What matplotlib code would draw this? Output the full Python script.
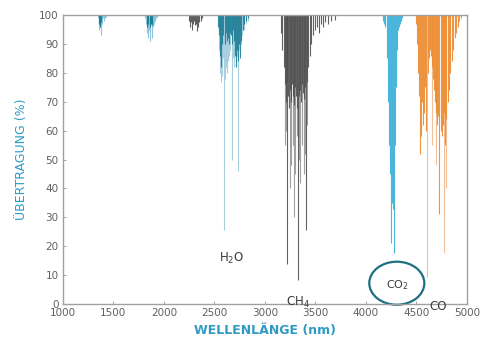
import matplotlib
matplotlib.use("Agg")
import matplotlib.pyplot as plt
from matplotlib.patches import Ellipse

# ---------------- data ----------------
x_ticks = [1000, 1500, 2000, 2500, 3000, 3500, 4000, 4500, 5000]
y_ticks = [0, 10, 20, 30, 40, 50, 60, 70, 80, 90, 100]

# H2O weak bands (light blue)
h2o_weak_wl = [1345, 1355, 1362, 1368, 1375, 1382, 1390, 1398, 1405, 1415, 1425,
               1815, 1825, 1832, 1840, 1848, 1855, 1862, 1870, 1878, 1885, 1892, 1900, 1910, 1920, 1935]
h2o_weak_tr = [99, 97, 95, 98, 93, 96, 97, 99, 98, 99, 99.5,
               99, 97, 94, 92, 96, 95, 91, 97, 95, 92, 96, 97, 98, 99, 99.5]
# H2O weak bands (teal)
h2o_weakd_wl = [1358, 1366, 1374, 1838, 1846, 1858, 1868, 1882]
h2o_weakd_tr = [97, 96, 97.5, 96, 97, 96, 97, 96.5]

# H2O main band, light blue
h2o_light_wl = [2545, 2555, 2565, 2575, 2585, 2595, 2600, 2610, 2620, 2630, 2640, 2650, 2660,
                2672, 2680, 2690, 2700, 2710, 2720, 2730, 2738, 2748, 2760, 2775, 2790, 2810, 2830]
h2o_light_tr = [88, 80, 77, 79, 85, 82, 25.5, 78, 82, 80, 84, 86, 88,
                50, 85, 82, 87, 84, 86, 80, 46, 88, 90, 93, 95, 97, 98]
# H2O main band, teal
h2o_dark_wl = [2540, 2550, 2560, 2568, 2578, 2590, 2605, 2615, 2625, 2635, 2645, 2655, 2665,
               2676, 2685, 2695, 2705, 2715, 2725, 2735, 2745, 2755, 2765, 2780, 2795, 2815, 2835]
h2o_dark_tr = [96, 93, 86, 82, 90, 93, 90, 94, 91, 92, 90, 94, 93,
               90, 95, 91, 86, 82, 88, 84, 90, 85, 91, 95, 97, 98, 99]

# CH4 (dark grey)
ch4_dark_wl = [2250, 2262, 2272, 2280, 2290, 2300, 2310, 2320, 2330, 2340, 2352, 2365, 2380,
               3165, 3175, 3185, 3195, 3205, 3215, 3223, 3232, 3240, 3250, 3260, 3270, 3280,
               3290, 3300, 3310, 3320, 3326, 3335, 3345, 3355, 3365, 3375, 3385, 3395, 3408,
               3420, 3432, 3445, 3460, 3480, 3500, 3520, 3540, 3560, 3580, 3600, 3630, 3660, 3690]
ch4_dark_tr = [98, 96, 97.5, 95, 97, 98, 96.5, 97, 94.5, 96, 97.5, 98, 99,
               94, 88, 82, 76, 70, 77, 14, 72, 68, 74, 70, 76, 72,
               69, 75, 72, 68, 8.3, 72, 74, 70, 76, 73, 71, 75, 25.6,
               77, 82, 86, 90, 93, 95, 96, 94, 97, 96, 97.5, 97, 98, 98.5]
# CH4 (light grey)
ch4_light_wl = [3200, 3212, 3245, 3255, 3275, 3285, 3300, 3315, 3340, 3350, 3370, 3390, 3400, 3415]
ch4_light_tr = [55, 60, 40, 48, 55, 30, 45, 58, 50, 42, 55, 45, 52, 62]

# CO2 (light blue)
co2_wl = [4175, 4185, 4195, 4205, 4212, 4220, 4228, 4235, 4242, 4248, 4255, 4262,
          4270, 4278, 4284, 4290, 4298, 4305, 4312, 4320, 4330, 4340, 4350, 4360]
co2_tr = [98, 97, 96, 93, 85, 70, 55, 50, 45, 21, 40, 35,
          33, 45, 17.6, 55, 75, 88, 93, 95, 96, 97, 98, 99]

# CO (orange)
co_dark_wl = [4500, 4510, 4520, 4530, 4540, 4550, 4560, 4570, 4580, 4590, 4600, 4615, 4625,
              4635, 4645, 4655, 4665, 4675, 4685, 4695, 4705, 4715, 4727, 4740, 4750, 4760,
              4770, 4780, 4795, 4810, 4820, 4835, 4850, 4865, 4880, 4895, 4910, 4925, 4940]
co_dark_tr = [97, 90, 80, 72, 52, 58, 70, 62, 66, 75, 60, 80, 85,
              88, 86, 82, 78, 74, 70, 66, 62, 65, 31, 60, 58, 62,
              66, 55, 64, 70, 74, 80, 84, 88, 92, 94, 96, 98, 99]
# CO (peach, deep lines)
co_light_wl = [4604, 4655, 4700, 4776, 4790]
co_light_tr = [9.4, 55, 48, 17.6, 40]

# ---------------- figure ----------------
fig = plt.figure(figsize=(4.95, 3.41), dpi=100)
ax = fig.add_axes([0.127, 0.1085, 0.816, 0.847])

lw = 0.8
ax.vlines(h2o_weak_wl, h2o_weak_tr, 100, color="#8ec5dc", lw=lw)
ax.vlines(h2o_weakd_wl, h2o_weakd_tr, 100, color="#1d7e96", lw=lw)
ax.vlines(h2o_light_wl, h2o_light_tr, 100, color="#a8cfe0", lw=lw)
ax.vlines(h2o_dark_wl, h2o_dark_tr, 100, color="#1d7e96", lw=lw, alpha=0.9)
ax.vlines(ch4_light_wl, ch4_light_tr, 100, color="#a0a0a0", lw=lw)
ax.vlines(ch4_dark_wl, ch4_dark_tr, 100, color="#505050", lw=lw, alpha=0.9)
ax.vlines(co2_wl, co2_tr, 100, color="#4ab6db", lw=lw)
ax.vlines(co_light_wl, co_light_tr, 100, color="#f2bf98", lw=lw)
ax.vlines(co_dark_wl, co_dark_tr, 100, color="#ec8a2e", lw=lw, alpha=0.9)

ax.set_xlim(1000, 5000)
ax.set_ylim(0, 100)
ax.set_xticks(x_ticks)
ax.set_yticks(y_ticks)
ax.tick_params(direction="in", length=2.5, width=0.6, colors="#9a9a9a",
               labelsize=7.5, labelcolor="#606060", pad=3)
for s in ax.spines.values():
    s.set_color("#a0a0a0")
    s.set_linewidth(1.0)

lab_col = "#2f9bc4"
ax.set_ylabel("ÜBERTRAGUNG (%)", color=lab_col, fontsize=9, labelpad=8)
ax.set_xlabel("WELLENLÄNGE (nm)", color=lab_col, fontsize=9, fontweight="semibold", labelpad=4)

txt_col = "#3a3a3a"
ax.text(2675, 15.9, "H$_2$O", color=txt_col, fontsize=8.5, ha="center", va="center")
ax.text(3329, 0.6, "CH$_4$", color=txt_col, fontsize=8.5, ha="center", va="center", clip_on=False)
ax.text(4313, 6.6, "CO$_2$", color=txt_col, fontsize=8, ha="center", va="center")
ax.text(4717, -0.8, "CO", color=txt_col, fontsize=8.5, ha="center", va="center", clip_on=False)
ax.add_patch(Ellipse((4307, 7.2), 545, 14.9, fill=False, edgecolor="#1f6f80",
                     lw=1.6, clip_on=False))

fig.savefig("out.png", dpi=100)
